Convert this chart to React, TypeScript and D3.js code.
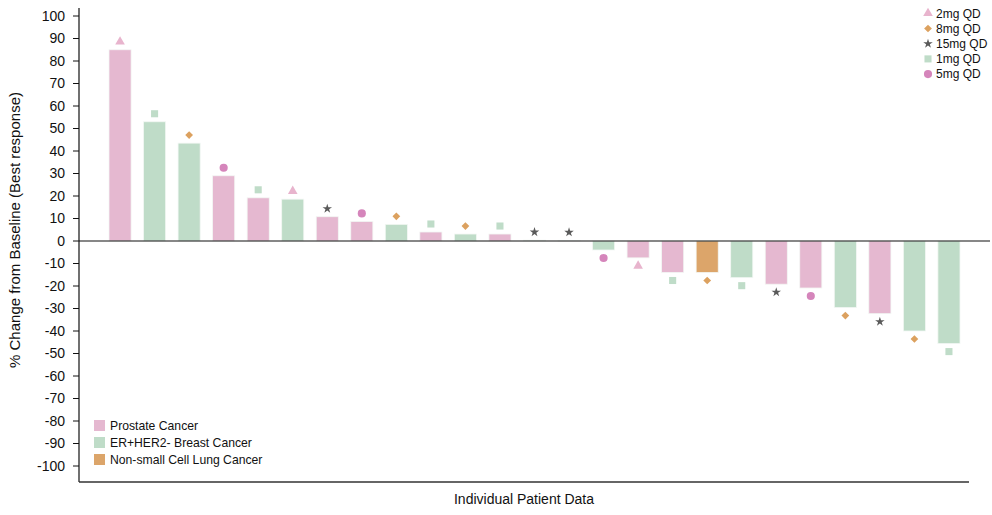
import React from "react";
import * as d3 from "d3";

const patients = d3.range(1, 26).map((i) => `P${i}`);
const values = [85, 53, 43.5, 29, 19.2, 18.6, 10.8, 8.7, 7.4, 4, 3.1, 3.1, 0.4, 0.3, -4, -7.5, -14, -14, -16.3, -19.2, -20.9, -29.6, -32.3, -40, -45.6];
const cancers = ["Prostate", "Breast", "Breast", "Prostate", "Prostate", "Breast", "Prostate", "Prostate", "Breast", "Prostate", "Breast", "Prostate", "Breast", "Prostate", "Breast", "Prostate", "Prostate", "Lung", "Breast", "Prostate", "Prostate", "Breast", "Prostate", "Breast", "Breast"];
const doses = ["2mg", "1mg", "8mg", "5mg", "1mg", "2mg", "15mg", "5mg", "8mg", "1mg", "8mg", "1mg", "15mg", "15mg", "5mg", "2mg", "1mg", "8mg", "1mg", "15mg", "5mg", "8mg", "15mg", "8mg", "1mg"];
const yTicks = d3.range(-100, 101, 10);

const cancerKeys = ["Prostate", "Breast", "Lung"];
const cancerLabels = ["Prostate Cancer", "ER+HER2- Breast Cancer", "Non-small Cell Lung Cancer"];
const cancerColors = ["#e5b8d0", "#bfdcc8", "#dca56a"];

const doseKeys = ["2mg", "8mg", "15mg", "1mg", "5mg"];
const doseLabels = ["2mg QD", "8mg QD", "15mg QD", "1mg QD", "5mg QD"];
const doseColors = ["#e8b4cd", "#dca15f", "#5a5a5a", "#bfdcc8", "#d585bb"];
const doseSymbols = [d3.symbolTriangle, d3.symbolSquare, d3.symbolStar, d3.symbolSquare, d3.symbolCircle];
const doseSizes = [40, 30, 28, 50, 52];
const doseRotations = [0, 45, 0, 0, 0];

const W = 992, H = 515;
const left = 79, plotRight = 969, top = 8, bottom = 482;
const font = "Liberation Sans, Arial, Helvetica, sans-serif";

export default function App() {
  const y = d3.scaleLinear().domain([-100, 100]).range([466, 16]);
  const x = d3.scaleBand().domain(patients).range([109, 960]).paddingInner(0.36).paddingOuter(0);
  const cColor = d3.scaleOrdinal<string, string>().domain(cancerKeys).range(cancerColors);
  const dColor = d3.scaleOrdinal<string, string>().domain(doseKeys).range(doseColors);
  const dIdx = (k: string) => doseKeys.indexOf(k);
  const sym = (k: string) => d3.symbol().type(doseSymbols[dIdx(k)]).size(doseSizes[dIdx(k)])() as string;
  const rot = (k: string) => doseRotations[dIdx(k)];
  const y0 = y(0);

  return (
    <svg width={W} height={H} style={{ position: "absolute", left: 0, top: 0, background: "#fff" }} fontFamily={font}>
      {/* bars */}
      {patients.map((p, i) => {
        const v = values[i];
        const yv = y(v);
        const bx = x(p)!;
        const bw = x.bandwidth();
        const my = v >= 0 ? yv - 8 : yv + 8;
        const k = doses[i];
        return (
          <g key={p}>
            <rect x={bx} y={Math.min(yv, y0)} width={bw} height={Math.max(Math.abs(yv - y0), 0.8)} fill={cColor(cancers[i])} stroke="#f3f7f4" strokeWidth={0.8} />
            <path d={sym(k)} transform={`translate(${bx + bw / 2},${my}) rotate(${rot(k)})`} fill={dColor(k)} />
          </g>
        );
      })}
      {/* zero line */}
      <line x1={left} x2={990} y1={y0} y2={y0} stroke="#111" strokeWidth={1.2} />
      {/* axes */}
      <line x1={left} x2={left} y1={top} y2={bottom} stroke="#111" strokeWidth={1.2} />
      <line x1={left} x2={plotRight} y1={bottom} y2={bottom} stroke="#333" strokeWidth={1.4} />
      {yTicks.map((t) => (
        <g key={t}>
          <line x1={left - 6} x2={left} y1={y(t)} y2={y(t)} stroke="#111" strokeWidth={1} />
          <text x={left - 14} y={y(t)} dy="0.35em" textAnchor="end" fontSize={14} fill="#111">{t}</text>
        </g>
      ))}
      <text transform={`translate(20,230) rotate(-90)`} textAnchor="middle" fontSize={15} fill="#111">% Change from Baseline (Best response)</text>
      <text x={524} y={504} textAnchor="middle" fontSize={14} fill="#111">Individual Patient Data</text>
      {/* dose legend */}
      {doseKeys.map((k, i) => (
        <g key={k} transform={`translate(928,${13.3 + i * 15.2})`}>
          <path d={sym(k)} transform={`rotate(${rot(k)})`} fill={dColor(k)} />
          <text x={8} dy="0.35em" fontSize={12} fill="#111">{doseLabels[i]}</text>
        </g>
      ))}
      {/* cancer legend */}
      {cancerKeys.map((k, i) => (
        <g key={k} transform={`translate(94,${420 + i * 17})`}>
          <rect width={11} height={11} fill={cColor(k)} />
          <text x={16} y={5.5} dy="0.35em" fontSize={12.2} fill="#111">{cancerLabels[i]}</text>
        </g>
      ))}
    </svg>
  );
}
